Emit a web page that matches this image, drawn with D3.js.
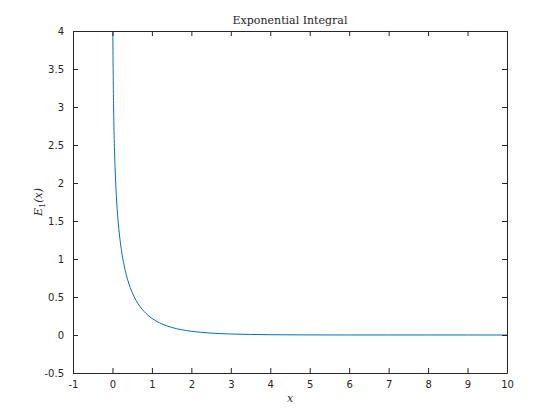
<!DOCTYPE html>
<html>
<head>
<meta charset="utf-8">
<script src="https://cdn.jsdelivr.net/npm/d3@7"></script>
<style>
body { margin: 0; background: #fff; }
svg text { fill: #262626; }
</style>
</head>
<body>
<svg id="chart" width="560" height="420"></svg>
<script>
// values
var xValues = [0.003, 0.01, 0.02, 0.03, 0.05, 0.075, 0.1, 0.15, 0.2, 0.25, 0.3, 0.4, 0.5, 0.6, 0.7, 0.8, 0.9, 1.0,
	1.25, 1.5, 1.75, 2, 2.5, 3, 3.5, 4, 5, 6, 7, 8, 9, 10];
var yValues = [5.23, 4.04, 3.35, 2.96, 2.47, 2.09, 1.82, 1.46, 1.22, 1.04, 0.906, 0.702, 0.560, 0.454, 0.374, 0.311, 0.260, 0.219,
	0.146, 0.100, 0.0695, 0.0489, 0.0249, 0.0130, 0.0070, 0.0038, 0.0011, 0.00036, 0.00012, 0.00004, 0.00001, 0.000004];
var xTicks = [-1, 0, 1, 2, 3, 4, 5, 6, 7, 8, 9, 10];
var yTicks = [-0.5, 0, 0.5, 1, 1.5, 2, 2.5, 3, 3.5, 4];

var margin = {top: 31, right: 53, bottom: 47, left: 73};
var width = 560, height = 420;

var svg = d3.select('#chart');

var x = d3.scaleLinear().domain([-1, 10]).range([margin.left, width - margin.right]);
var y = d3.scaleLinear().domain([-0.5, 4]).range([height - margin.bottom, margin.top]);

var tickFont = 'DejaVu Sans, sans-serif';

// clip
svg.append('clipPath').attr('id', 'clip')
	.append('rect')
	.attr('x', margin.left).attr('y', margin.top)
	.attr('width', width - margin.left - margin.right)
	.attr('height', height - margin.top - margin.bottom);

var data = xValues.map((d, i) => ({x: d, y: yValues[i]}));

svg.append('path')
	.datum(data)
	.attr('clip-path', 'url(#clip)')
	.attr('fill', 'none')
	.attr('stroke', '#0072BD')
	.attr('stroke-width', 1)
	.attr('d', d3.line().x(d => x(d.x)).y(d => y(d.y)).curve(d3.curveMonotoneX));

// axes (ticks inward, box on)
function styleAxis(g) {
	g.select('.domain').attr('stroke', '#262626');
	g.selectAll('.tick line').attr('stroke', '#262626');
	g.selectAll('.tick text').attr('font-family', tickFont).attr('font-size', 10).attr('fill', '#262626');
}

// plain hyphen for negatives, like the reference
var fmt = d => String(d);

svg.append('g')
	.attr('transform', `translate(0, ${height - margin.bottom})`)
	.call(d3.axisBottom(x).tickValues(xTicks).tickFormat(fmt).tickSizeInner(-5).tickSizeOuter(0).tickPadding(8))
	.call(styleAxis);

svg.append('g')
	.attr('transform', `translate(0, ${margin.top})`)
	.call(d3.axisTop(x).tickValues(xTicks).tickFormat('').tickSizeInner(-5).tickSizeOuter(0))
	.call(styleAxis);

svg.append('g')
	.attr('transform', `translate(${margin.left}, 0)`)
	.call(d3.axisLeft(y).tickValues(yTicks).tickFormat(fmt).tickSizeInner(-5).tickSizeOuter(0).tickPadding(9))
	.call(styleAxis);

svg.append('g')
	.attr('transform', `translate(${width - margin.right}, 0)`)
	.call(d3.axisRight(y).tickValues(yTicks).tickFormat('').tickSizeInner(-5).tickSizeOuter(0))
	.call(styleAxis);

// title and labels
var cx = (margin.left + width - margin.right) / 2;
svg.append('text')
	.attr('x', cx).attr('y', 24)
	.attr('text-anchor', 'middle')
	.attr('font-family', 'DejaVu Serif, serif')
	.attr('font-size', 11)
	.text('Exponential Integral');

svg.append('text')
	.attr('x', cx).attr('y', 402)
	.attr('text-anchor', 'middle')
	.attr('font-family', 'DejaVu Serif, serif')
	.attr('font-style', 'italic')
	.attr('font-size', 11)
	.text('x');

var ylab = svg.append('text')
	.attr('transform', `translate(42, ${(margin.top + height - margin.bottom) / 2}) rotate(-90)`)
	.attr('text-anchor', 'middle')
	.attr('font-family', 'DejaVu Serif, serif')
	.attr('font-style', 'italic')
	.attr('font-size', 11);
ylab.append('tspan').text('E');
ylab.append('tspan').attr('font-size', 8).attr('dy', 3).attr('font-style', 'normal').text('1');
ylab.append('tspan').attr('dy', -3).text('(x)');
</script>
</body>
</html>
